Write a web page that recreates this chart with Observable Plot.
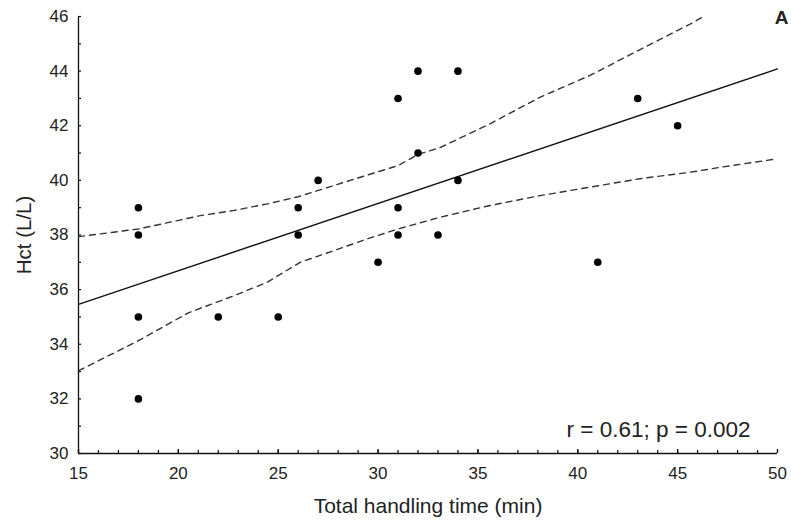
<!DOCTYPE html>
<html>
<head>
<meta charset="utf-8">
<script src="https://cdn.jsdelivr.net/npm/d3@7"></script>
<script src="https://cdn.jsdelivr.net/npm/@observablehq/plot@0.6"></script>
<style>
  html, body { margin: 0; padding: 0; background: #fff; }
  #chart { width: 791px; height: 525px; }
</style>
</head>
<body>
<div id="chart"></div>
<script>
// Observed points: total handling time (min) vs Hct (L/L)
const handlingTime = [18, 18, 18, 18, 22, 25, 26, 26, 27, 30, 31, 31, 31, 32, 32, 33, 34, 34, 41, 43, 45];
const hctValues    = [39, 38, 35, 32, 35, 35, 39, 38, 40, 37, 43, 39, 38, 44, 41, 38, 44, 40, 37, 43, 42];

// Regression line end points
const fitX = [15, 50];
const fitY = [35.46, 44.08];

// Confidence band (dashed)
const upperX = [15, 18, 21.1, 22.8, 24.45, 26, 28.6, 31, 32, 33.1, 35.6, 38.1, 40.6, 43.1, 45.65, 46.3];
const upperY = [37.94, 38.22, 38.71, 38.9, 39.14, 39.4, 40.0, 40.54, 40.95, 41.2, 42.07, 43.04, 43.84, 44.78, 45.73, 46.0];
const lowerX = [15, 18, 20.5, 22.8, 24.45, 26.1, 27.8, 29.46, 31, 33.1, 35.6, 38.1, 40.6, 43.1, 45.65, 47.15, 50];
const lowerY = [33.03, 34.13, 35.15, 35.78, 36.27, 37.0, 37.43, 37.86, 38.22, 38.65, 39.08, 39.44, 39.75, 40.06, 40.30, 40.48, 40.79];

// Ticks and labels
const xMajorTicks = [15, 20, 25, 30, 35, 40, 45, 50];
const xMinorTicks = d3.range(15, 51, 1);
const yMajorTicks = [30, 32, 34, 36, 38, 40, 42, 44, 46];
const yMinorTicks = d3.range(30, 47, 1);
const xTitle = "Total handling time (min)";
const yTitle = "Hct (L/L)";
const statText = "r = 0.61; p = 0.002";
const panelLabel = "A";

const points = handlingTime.map((x, i) => ({x, y: hctValues[i]}));
const fit = fitX.map((x, i) => ({x, y: fitY[i]}));
const upper = upperX.map((x, i) => ({x, y: upperY[i]}));
const lower = lowerX.map((x, i) => ({x, y: lowerY[i]}));

const font = "'Liberation Sans', Arial, sans-serif";
const xMin = 15, yMin = 30;

const chart = Plot.plot({
  width: 791,
  height: 525,
  marginLeft: 78,
  marginRight: 14,
  marginTop: 16,
  marginBottom: 72,
  style: {fontFamily: font, color: "#222", background: "#fff", overflow: "visible"},
  x: {domain: [15, 50]},
  y: {domain: [30, 46]},
  marks: [
    // axis lines
    Plot.ruleY([yMin], {stroke: "#111", strokeWidth: 1.3}),
    Plot.ruleX([xMin], {stroke: "#111", strokeWidth: 1.3}),
    // inward tick marks
    Plot.ruleX(xMinorTicks, {y1: yMin, y2: yMin, insetTop: -3, stroke: "#111", strokeWidth: 1.2}),
    Plot.ruleX(xMajorTicks, {y1: yMin, y2: yMin, insetTop: -4, stroke: "#111", strokeWidth: 1.3}),
    Plot.ruleY(yMinorTicks, {x1: xMin, x2: xMin, insetRight: -3, stroke: "#111", strokeWidth: 1.2}),
    // tick labels
    Plot.axisX(xMajorTicks, {tickSize: 0, tickPadding: 13, fontSize: 17, label: null, tickFormat: d => String(d), fill: "#222"}),
    Plot.axisY(yMajorTicks, {tickSize: 0, tickPadding: 10, fontSize: 17, label: null, tickFormat: d => String(d), fill: "#222"}),
    // confidence band
    Plot.line(upper, {x: "x", y: "y", stroke: "#333", strokeWidth: 1.4, strokeDasharray: "6,5"}),
    Plot.line(lower, {x: "x", y: "y", stroke: "#333", strokeWidth: 1.4, strokeDasharray: "6,5"}),
    // regression line
    Plot.line(fit, {x: "x", y: "y", stroke: "#111", strokeWidth: 1.4}),
    // points
    Plot.dot(points, {x: "x", y: "y", r: 3.8, fill: "#000", stroke: null}),
    // titles and annotations
    Plot.text([xTitle], {frameAnchor: "bottom", dy: 53, lineAnchor: "middle", textAnchor: "middle", fontSize: 21, fill: "#222"}),
    Plot.text([yTitle], {frameAnchor: "left", dx: -54, rotate: -90, lineAnchor: "middle", textAnchor: "middle", fontSize: 20.5, fill: "#222"}),
    Plot.text([statText], {frameAnchor: "bottom-right", dx: -27, dy: -24, lineAnchor: "middle", textAnchor: "end", fontSize: 22.5, fill: "#222"}),
    Plot.text([panelLabel], {frameAnchor: "top-right", dx: 11, dy: 1, lineAnchor: "middle", textAnchor: "end", fontSize: 19, fontWeight: "bold", fill: "#222"})
  ]
});

document.getElementById("chart").appendChild(chart);
</script>
</body>
</html>
